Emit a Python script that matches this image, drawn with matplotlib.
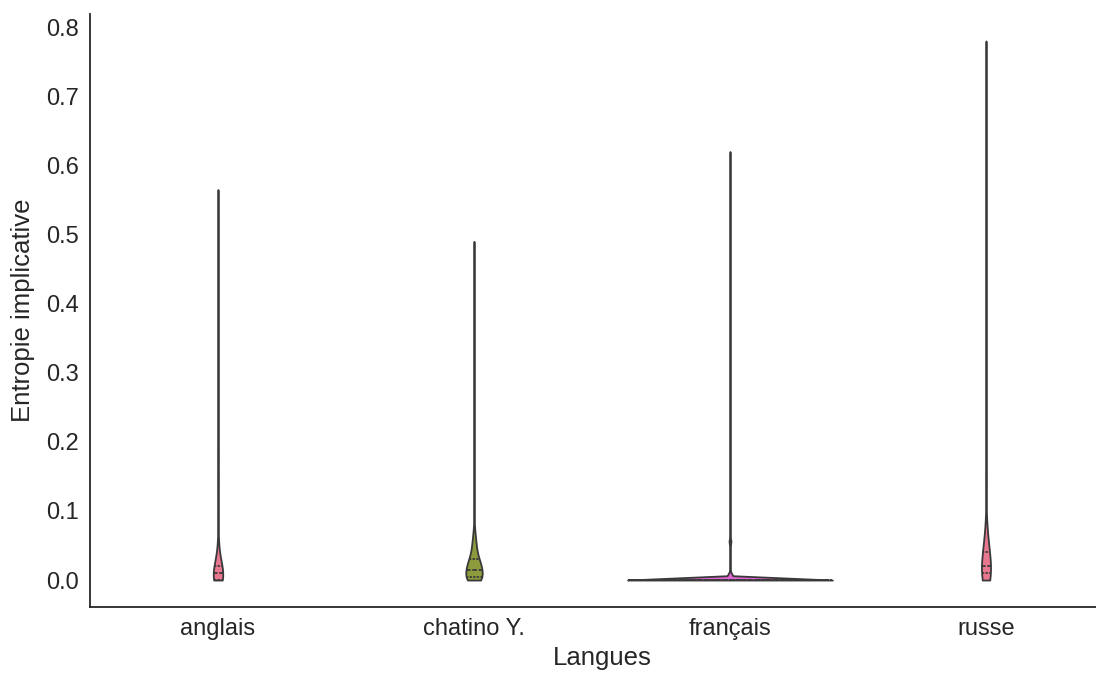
import numpy as np
import pandas as pd
import matplotlib
matplotlib.use("Agg")
import matplotlib.pyplot as plt
import seaborn as sns

# values, given as (value, how many times) per language
langues = ["anglais", "chatino Y.", "français", "russe"]

anglais_vals = [0.0, 0.005, 0.01, 0.015, 0.02, 0.03, 0.04, 0.06, 0.13, 0.14, 0.16, 0.565]
anglais_counts = [56, 30, 29, 22, 18, 13, 10, 6, 2, 3, 2, 1]

chatino_vals = [0.0, 0.005, 0.01, 0.015, 0.02, 0.025, 0.03, 0.04, 0.05, 0.06, 0.07, 0.08, 0.49]
chatino_counts = [65, 40, 36, 33, 33, 30, 30, 25, 20, 14, 7, 3, 1]

francais_vals = [0.0, 0.003, 0.01, 0.02, 0.05, 0.055, 0.06, 0.62]
francais_counts = [4000, 40, 40, 15, 15, 40, 15, 1]

russe_vals = [0.0, 0.01, 0.02, 0.03, 0.04, 0.05, 0.06, 0.07, 0.08, 0.1, 0.78]
russe_counts = [44, 32, 29, 24, 18, 14, 10, 7, 4, 2, 1]

couleurs = ["#e8778f", "#8e9b3c", "#e065d2", "#e8778f"]

rows = []
for lang, vals, counts in zip(langues,
                              [anglais_vals, chatino_vals, francais_vals, russe_vals],
                              [anglais_counts, chatino_counts, francais_counts, russe_counts]):
    for v in np.repeat(vals, counts):
        rows.append((lang, v))
df = pd.DataFrame(rows, columns=["Langues", "Entropie implicative"])

sns.set_style("white")
plt.rcParams["font.family"] = ["Liberation Sans", "DejaVu Sans"]

fig = plt.figure(figsize=(10.96, 6.73), dpi=100)
ax = fig.add_axes([90 / 1096, 66 / 673, 1024 / 1096, 593 / 673])

sns.violinplot(data=df, x="Langues", y="Entropie implicative", hue="Langues",
               palette=couleurs, cut=0, inner="quartile", density_norm="count",
               common_norm=True, linewidth=1.3, linecolor="#3a3a3a",
               saturation=1, legend=False, ax=ax)

ax.set_ylim(-0.039, 0.819)
ax.set_xlim(-0.5, 3.5)
ax.set_yticks(np.arange(0, 0.81, 0.1))
ax.tick_params(axis="both", labelsize=17, colors="#262626", length=0, pad=8)
ax.set_xlabel("Langues", fontsize=18.5, color="#262626", labelpad=4)
ax.set_ylabel("Entropie implicative", fontsize=18.5, color="#262626", labelpad=8)
for s in ["top", "right"]:
    ax.spines[s].set_visible(False)
for s in ["left", "bottom"]:
    ax.spines[s].set_color("#262626")
    ax.spines[s].set_linewidth(1.3)

fig.savefig("out.png", dpi=100)
